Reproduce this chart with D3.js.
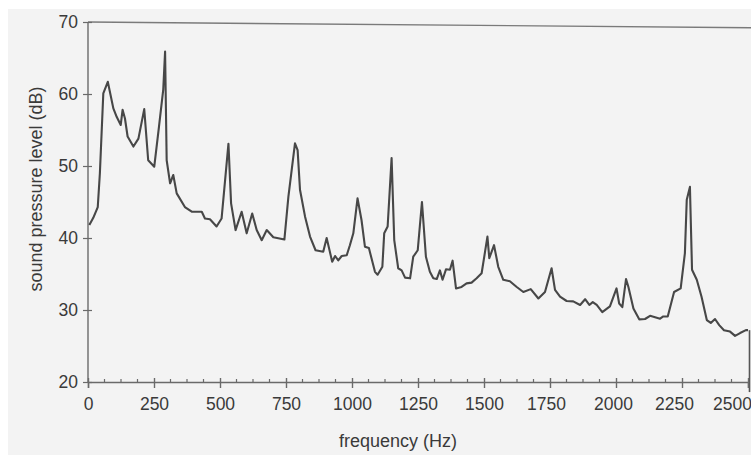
<!DOCTYPE html>
<html>
<head>
<meta charset="utf-8">
<script src="https://cdn.jsdelivr.net/npm/d3@7"></script>
<style>
  html, body { margin: 0; padding: 0; background: #ffffff; }
  svg { display: block; }
  text { font-family: "Liberation Sans", Arial, Helvetica, sans-serif; fill: #3a3a3a; }
</style>
</head>
<body>
<svg id="chart" width="751" height="455"></svg>
<script>
// ---- data ----
const frequencyHz = [5, 20, 37, 45, 58, 75, 96, 109, 124, 131, 140, 150, 172, 191, 213, 228, 251, 269, 285, 292,
  298, 311, 323, 336, 367, 393, 431, 443, 462, 487, 506, 532, 542, 559, 582, 601, 622, 639, 658, 677,
  702, 744, 759, 784, 794, 803, 822, 841, 862, 891, 904, 925, 936, 948, 961, 980, 992, 1005, 1021, 1036,
  1049, 1064, 1087, 1097, 1115, 1122, 1135, 1150, 1160, 1175, 1188, 1201, 1220, 1232, 1249, 1265, 1280, 1295, 1308, 1321,
  1333, 1343, 1356, 1371, 1381, 1394, 1415, 1434, 1453, 1472, 1491, 1504, 1513, 1520, 1538, 1554, 1573, 1598, 1624, 1649,
  1677, 1706, 1731, 1756, 1769, 1788, 1813, 1838, 1864, 1883, 1899, 1912, 1927, 1948, 1977, 2002, 2012, 2024, 2038, 2047,
  2066, 2088, 2110, 2129, 2148, 2167, 2179, 2196, 2220, 2245, 2261, 2268, 2280, 2288, 2306, 2324, 2344, 2359, 2375, 2391,
  2409, 2432, 2451, 2470, 2492, 2500];
const levelDb = [41.8, 42.8, 44.3, 49.0, 60.1, 61.7, 58.0, 56.8, 55.7, 57.8, 56.6, 54.1, 52.7, 53.8, 57.9, 50.8, 49.9, 55.5, 60.6, 65.9,
  50.8, 47.6, 48.75, 46.2, 44.3, 43.65, 43.65, 42.7, 42.6, 41.6, 42.7, 53.1, 44.8, 41.1, 43.65, 40.65, 43.4, 41.1, 39.7, 41.1,
  40.1, 39.8, 45.7, 53.15, 52.2, 46.7, 43.0, 40.2, 38.3, 38.1, 40.0, 36.7, 37.5, 36.9, 37.5, 37.6, 39.0, 40.65, 45.5, 42.5,
  38.8, 38.6, 35.3, 34.9, 36.0, 40.65, 41.6, 51.1, 39.7, 35.8, 35.5, 34.5, 34.4, 37.4, 38.3, 45.0, 37.4, 35.3, 34.4, 34.3,
  35.5, 34.2, 35.65, 35.6, 36.85, 33.0, 33.2, 33.7, 33.8, 34.4, 35.1, 38.1, 40.2, 37.2, 39.0, 36.0, 34.2, 34.0, 33.2, 32.5,
  32.9, 31.6, 32.5, 35.8, 32.8, 31.85, 31.25, 31.2, 30.7, 31.5, 30.7, 31.1, 30.7, 29.7, 30.5, 33.0, 30.9, 30.4, 34.3, 33.2,
  30.2, 28.7, 28.75, 29.2, 29.0, 28.8, 29.1, 29.1, 32.5, 33.0, 37.9, 45.3, 47.1, 35.6, 34.2, 31.85, 28.6, 28.2, 28.75, 27.9,
  27.2, 27.0, 26.4, 26.8, 27.2, 27.2];
const xTicks = [0, 250, 500, 750, 1000, 1250, 1500, 1750, 2000, 2250, 2500];
const yTicks = [20, 30, 40, 50, 60, 70];
const xLabel = "frequency (Hz)";
const yLabel = "sound pressure level (dB)";

// ---- layout ----
const svg = d3.select("#chart");
const W = 751, H = 455;
const plot = { left: 88, right: 748, top: 22, bottom: 382 };

// scanned-paper background
svg.append("rect").attr("x", 8).attr("y", 9).attr("width", W - 8).attr("height", H - 9).attr("fill", "#f3f3f3");

const x = d3.scaleLinear().domain([0, 2500]).range([plot.left, plot.right]);
const y = d3.scaleLinear().domain([20, 70]).range([plot.bottom, plot.top]);

const axisColor = "#6a6a6a";

// top frame line (slightly skewed in the scan)
svg.append("line")
  .attr("x1", x(0)).attr("y1", y(70))
  .attr("x2", W).attr("y2", y(69.2))
  .attr("stroke", "#7a7a7a").attr("stroke-width", 1.4);

// right edge line visible near bottom
svg.append("line")
  .attr("x1", x(2500) + 1.5).attr("x2", x(2500) + 1.5)
  .attr("y1", y(27.2)).attr("y2", y(18.6))
  .attr("stroke", "#555").attr("stroke-width", 1.6);

// minor x ticks
const minorX = d3.range(0, 2500.1, 62.5).filter(v => v % 250 !== 0);
svg.append("g").selectAll("line").data(minorX).join("line")
  .attr("x1", d => x(d)).attr("x2", d => x(d))
  .attr("y1", plot.bottom - 3).attr("y2", plot.bottom)
  .attr("stroke", axisColor).attr("stroke-width", 1.2);

// x axis
const labelShift = { 1750: -4, 2000: -3, 2250: -8, 2500: -16 }; // scan drift of the printed labels
const xAxis = d3.axisBottom(x).tickValues(xTicks).tickFormat(d3.format("d")).tickSize(6).tickPadding(10);
const gx = svg.append("g").attr("transform", `translate(0,${plot.bottom})`).call(xAxis);
gx.select(".domain").attr("stroke", axisColor).attr("stroke-width", 1.4);
gx.selectAll(".tick line").attr("stroke", axisColor).attr("stroke-width", 1.4).attr("y1", -4);
gx.selectAll(".tick text").attr("font-size", "17.5px").attr("fill", "#3a3a3a")
  .attr("font-family", "Liberation Sans, Arial, sans-serif")
  .attr("dx", d => labelShift[d] || 0);

// y axis
const yAxis = d3.axisLeft(y).tickValues(yTicks).tickSize(5).tickPadding(5);
const gy = svg.append("g").attr("transform", `translate(${plot.left},0)`).call(yAxis);
gy.select(".domain").attr("stroke", axisColor).attr("stroke-width", 1.4).attr("d", `M0,${plot.top}V${plot.bottom}`);
gy.selectAll(".tick line").attr("stroke", axisColor).attr("stroke-width", 1.2).attr("x2", 4).attr("x1", -5);
gy.selectAll(".tick text").attr("font-size", "17.5px").attr("fill", "#3a3a3a")
  .attr("font-family", "Liberation Sans, Arial, sans-serif");

// axis labels
svg.append("text")
  .attr("x", 398).attr("y", 447)
  .attr("text-anchor", "middle")
  .attr("font-size", "18px")
  .text(xLabel);

svg.append("text")
  .attr("transform", `translate(42,189) rotate(-90)`)
  .attr("text-anchor", "middle")
  .attr("font-size", "18px")
  .text(yLabel);

// spectrum line
const pts = frequencyHz.map((f, i) => [f, levelDb[i]]);
const line = d3.line().x(d => x(d[0])).y(d => y(d[1]));
svg.append("path")
  .datum(pts)
  .attr("d", line)
  .attr("fill", "none")
  .attr("stroke", "#474747")
  .attr("stroke-width", 2.1)
  .attr("stroke-linejoin", "round");
</script>
</body>
</html>
